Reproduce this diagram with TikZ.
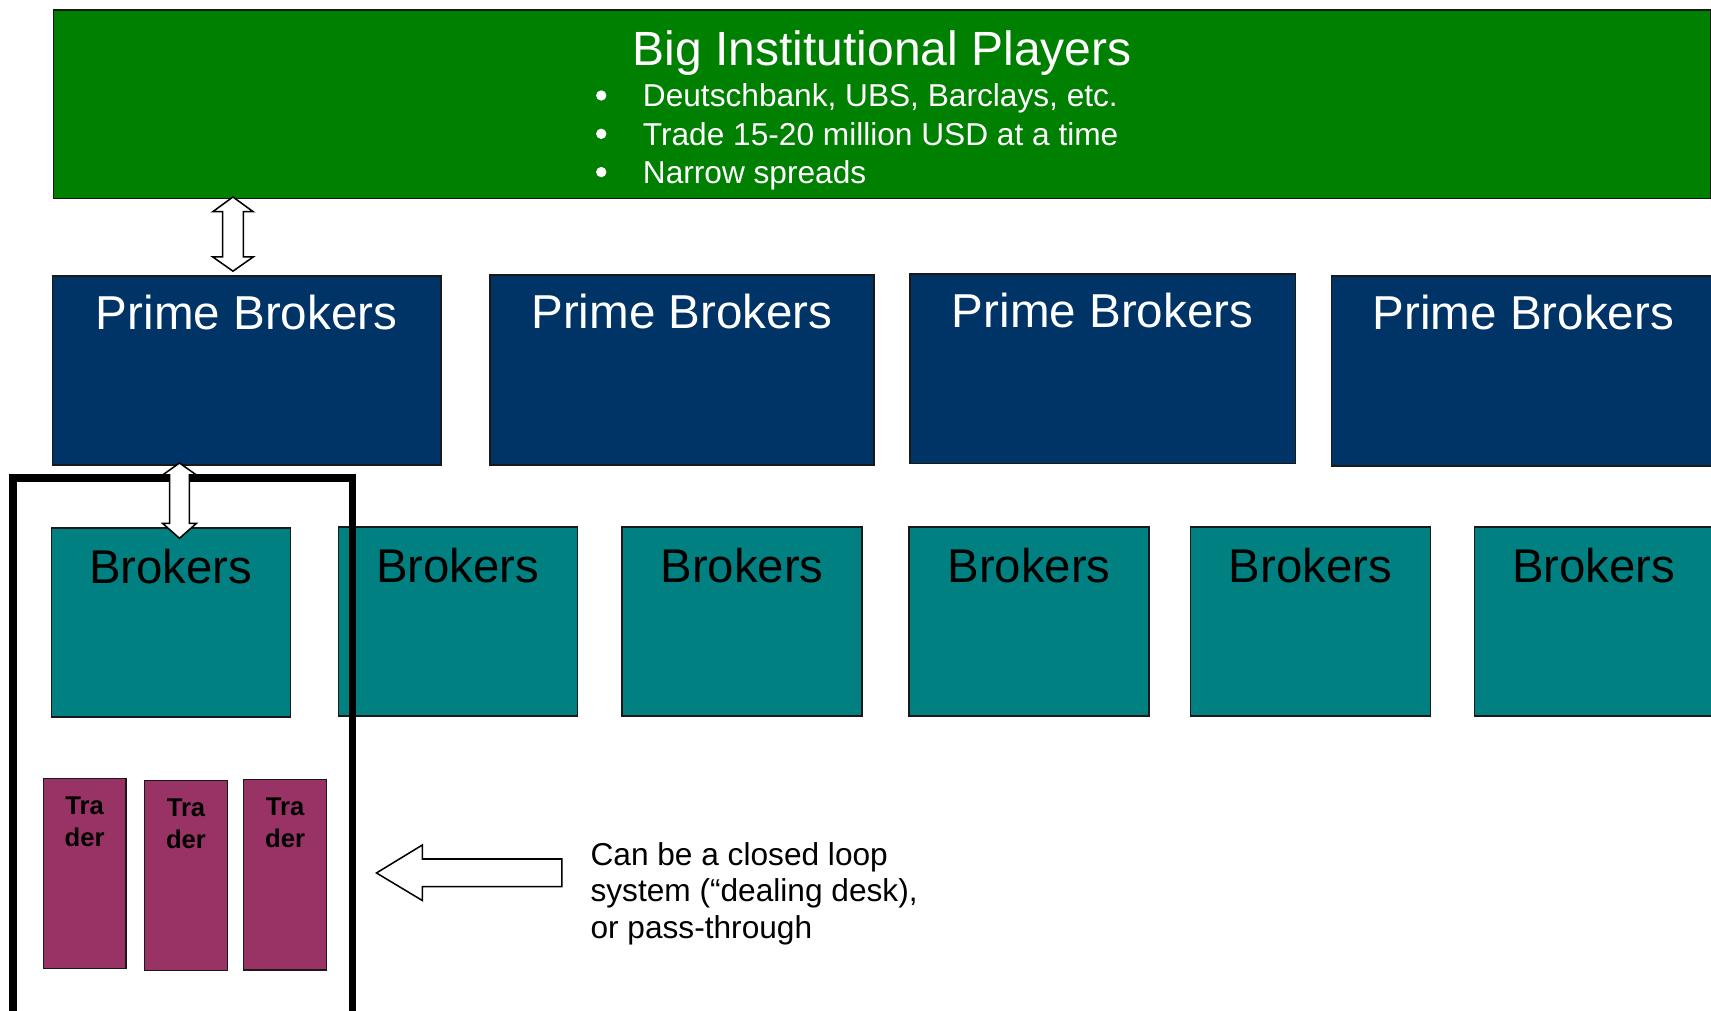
\documentclass[tikz,border=0pt]{standalone}
\usepackage{fontspec}
\setmainfont{Liberation Sans}
\definecolor{bigGreen}{RGB}{0,128,0}
\definecolor{primeBlue}{RGB}{0,51,102}
\definecolor{brokerTeal}{RGB}{0,128,128}
\definecolor{traderPlum}{RGB}{153,51,102}
\begin{document}
\begin{tikzpicture}[x=1pt,y=-1pt,
  box/.style={draw=black!90, line width=1.3pt, inner sep=0pt, outer sep=0pt, anchor=north west},
  bigbox/.style={box, fill=bigGreen},
  primebox/.style={box, fill=primeBlue},
  brokerbox/.style={box, fill=brokerTeal},
  traderbox/.style={box, fill=traderPlum},
  bigtitle/.style={anchor=base, text=white, inner sep=0pt, font=\fontsize{44}{50}\selectfont},
  bullettext/.style={anchor=base west, text=white, inner sep=0pt, font=\fontsize{29}{35}\selectfont},
  bulletdot/.style={circle, fill=white, minimum size=9.5pt, inner sep=0pt, outer sep=0pt},
  primetext/.style={anchor=base, text=white, inner sep=0pt, font=\fontsize{43.6}{50}\selectfont},
  brokertext/.style={anchor=base, text=black, inner sep=0pt, font=\fontsize{43.4}{50}\selectfont},
  tradertext/.style={anchor=base, text=black, inner sep=0pt, font=\fontsize{23.5}{28}\selectfont\bfseries},
  notetext/.style={anchor=base west, text=black, inner sep=0pt, font=\fontsize{29}{34}\selectfont},
  blockarrow/.style={draw=black, fill=white, line width=1.4pt, line join=miter},
  framebox/.style={draw=black, line width=6.7pt, inner sep=0pt, outer sep=0pt, anchor=north west}
]
\useasboundingbox (0,0) rectangle (1568,926.5);

% top green box
\node[bigbox, minimum width=1519, minimum height=173] (big) at (49,9) {};
\node[bigtitle] (title) at (808.5,59.6) {Big Institutional Players};
\node[bulletdot] (d1) at (551,87.5) {};
\node[bulletdot] (d2) at (551,122.6) {};
\node[bulletdot] (d3) at (551,157.7) {};
\node[bullettext] (t1) at (589,97.8) {Deutschbank, UBS, Barclays, etc.};
\node[bullettext] (t2) at (589,132.9) {Trade 15-20 million USD at a time};
\node[bullettext] (t3) at (589,168.0) {Narrow spreads};

% prime brokers
\node[primebox, minimum width=356, minimum height=173] (pb1) at (48,253) {};
\node[primebox, minimum width=352, minimum height=174] (pb2) at (449,252) {};
\node[primebox, minimum width=353, minimum height=174] (pb3) at (834,251) {};
\node[primebox, minimum width=352, minimum height=174] (pb4) at (1220,253) {};
\foreach \i in {1,2,3,4}{
  \node[primetext] (pbt\i) at ([yshift=-49pt]pb\i.north) {Prime Brokers};
}

% brokers
\node[brokerbox, minimum width=219, minimum height=173] (br1) at (47,484) {};
\node[brokerbox, minimum width=219, minimum height=173] (br2) at (310,483) {};
\node[brokerbox, minimum width=220, minimum height=173] (br3) at (570,483) {};
\node[brokerbox, minimum width=220, minimum height=173] (br4) at (833,483) {};
\node[brokerbox, minimum width=220, minimum height=173] (br5) at (1091,483) {};
\node[brokerbox, minimum width=219, minimum height=173] (br6) at (1351,483) {};
\foreach \i in {1,...,6}{
  \node[brokertext] (brt\i) at ([yshift=-51pt]br\i.north) {Brokers};
}

% traders
\node[traderbox, minimum width=75.8, minimum height=174.4] (tr1) at (39.7,713.3) {};
\node[traderbox, minimum width=76.3, minimum height=174.2] (tr2) at (132.3,715.4) {};
\node[traderbox, minimum width=76.1, minimum height=174.4] (tr3) at (223.3,714.5) {};
\foreach \i in {1,2,3}{
  \node[tradertext] (tra\i) at ([yshift=-33pt]tr\i.north) {Tra};
  \node[tradertext] (der\i) at ([yshift=-62pt]tr\i.north) {der};
}

% thick frame around broker + traders
\node[framebox, minimum width=311, minimum height=540] (frame) at (11.9,438) {};

% double arrow big -> pb1
\draw[blockarrow] (213.5,180.5) -- (232,194) -- (223,194) -- (223,235.5) -- (232,235.5)
  -- (213.5,248.5) -- (195,235.5) -- (204,235.5) -- (204,194) -- (195,194) -- cycle;

% double arrow pb1 -> br1
\draw[blockarrow] (164.5,424.3) -- (180,435.3) -- (173.5,435.3) -- (173.5,479.6) -- (180,479.6)
  -- (164.5,493.3) -- (149,479.6) -- (155.5,479.6) -- (155.5,435.3) -- (149,435.3) -- cycle;

% left arrow
\draw[blockarrow] (345,800) -- (387,774.4) -- (387,787.2) -- (515,787.2) -- (515,812.6)
  -- (387,812.6) -- (387,825.2) -- cycle;

% note
\node[notetext] (n1) at (541,792.7) {Can be a closed loop};
\node[notetext] (n2) at (541,826.3) {system (“dealing desk),};
\node[notetext] (n3) at (541,860) {or pass-through};
\end{tikzpicture}
\end{document}
